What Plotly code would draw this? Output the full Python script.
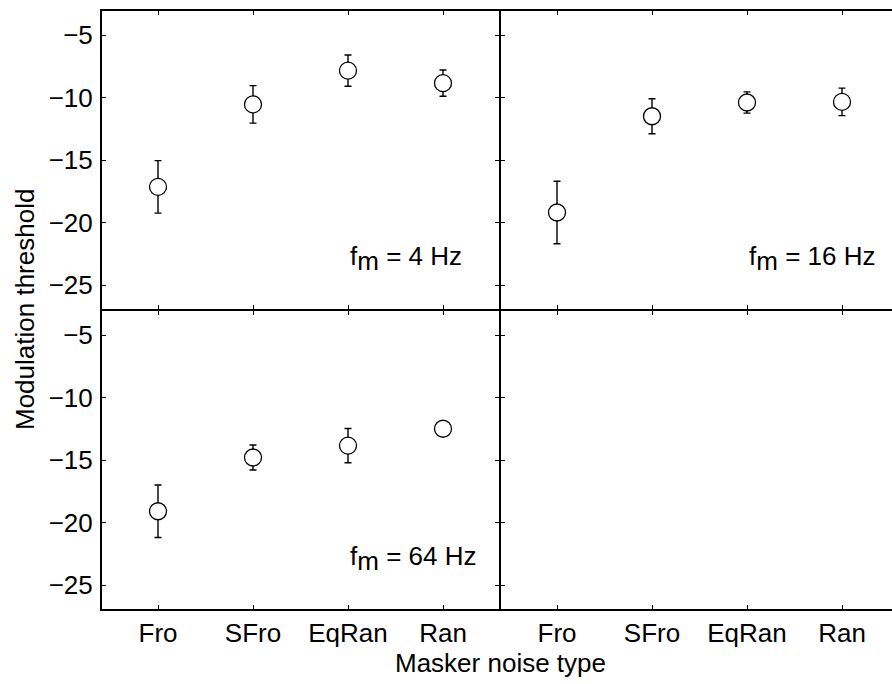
import plotly.graph_objects as go
from plotly.subplots import make_subplots

categories = ["Fro", "SFro", "EqRan", "Ran"]
xpos = [1, 2, 3, 4]

thr_4 = [-17.15, -10.55, -7.85, -8.85]
err_4 = [2.1, 1.5, 1.25, 1.05]
thr_16 = [-19.2, -11.5, -10.4, -10.35]
err_16 = [2.5, 1.4, 0.85, 1.1]
thr_64 = [-19.1, -14.8, -13.85, -12.5]
err_64 = [2.1, 1.0, 1.37, 0.4]

FS = 26
sub_m = "<sub><span style='font-size:%dpx'>m</span></sub>" % FS
labels = ["f" + sub_m + " = 4 Hz", "f" + sub_m + " = 16 Hz", "f" + sub_m + " = 64 Hz"]
yticks = [-25, -20, -15, -10, -5]

FONT = "Liberation Sans, Arial, Helvetica, sans-serif"

W, H = 892, 684
L, R, T, B = 101, 0, 10, 74
pw = W - L - R
ph = H - T - B
split = 399 / pw

fig = make_subplots(rows=2, cols=2, horizontal_spacing=0, vertical_spacing=0)

panels = [(1, 1, thr_4, err_4),
          (1, 2, thr_16, err_16),
          (2, 1, thr_64, err_64)]

for r, c, y, e in panels:
    fig.add_trace(go.Scatter(
        x=xpos, y=y, mode="markers",
        marker=dict(symbol="circle", size=17, color="white",
                    line=dict(color="black", width=1.3)),
        error_y=dict(type="data", array=e, visible=True, color="black",
                     thickness=1.4, width=3.5),
        showlegend=False, hoverinfo="skip"), row=r, col=c)

# empty bottom-right panel
fig.add_trace(go.Scatter(x=[None], y=[None], mode="markers", showlegend=False),
              row=2, col=2)

for r in (1, 2):
    for c in (1, 2):
        xr = [0.4, 4.6] if c == 1 else [0.4, 0.4 + 392 / 95]
        fig.update_xaxes(range=xr, tickvals=xpos, ticktext=categories,
                         showticklabels=(r == 2), ticks="inside", ticklen=5,
                         tickwidth=1, tickcolor="black",
                         showline=True, linecolor="black", linewidth=1,
                         mirror="allticks", showgrid=False, zeroline=False,
                         ticklabelstandoff=0, automargin=False,
                         tickfont=dict(family=FONT, size=FS, color="black"),
                         row=r, col=c)
        fig.update_yaxes(range=[-27, -3], tickvals=yticks,
                         showticklabels=(c == 1), ticks="inside", ticklen=5,
                         tickwidth=1, tickcolor="black",
                         showline=True, linecolor="black", linewidth=1,
                         mirror=("allticks" if c == 1 else False),
                         showgrid=False, zeroline=False,
                         ticklabelstandoff=2, automargin=False,
                         tickfont=dict(family=FONT, size=FS, color="black"),
                         row=r, col=c)

fig.update_layout(
    xaxis=dict(domain=[0, split]), xaxis2=dict(domain=[split, 1]),
    xaxis3=dict(domain=[0, split]), xaxis4=dict(domain=[split, 1]),
    yaxis=dict(domain=[0.5, 1]), yaxis2=dict(domain=[0.5, 1]),
    yaxis3=dict(domain=[0, 0.5]), yaxis4=dict(domain=[0, 0.5]),
)

# outer frame (thicker)
for x0, y0, x1, y1 in [(0, 0, 0, 1), (0, 1, 1, 1), (0, 0, 1, 0)]:
    fig.add_shape(type="line", xref="paper", yref="paper", x0=x0, y0=y0, x1=x1, y1=y1,
                  line=dict(color="black", width=2), layer="above")

for (xr_, yr_), txt in zip([("x", "y"), ("x2", "y2"), ("x3", "y3")], labels):
    fig.add_annotation(x=3.0, y=-22.9, xref=xr_, yref=yr_, text=txt,
                       showarrow=False, xanchor="left", yanchor="middle",
                       font=dict(family=FONT, size=FS, color="black"))

fig.add_annotation(x=(500 - L) / pw, y=-(663 - (H - B)) / ph,
                   xref="paper", yref="paper", text="Masker noise type",
                   showarrow=False, xanchor="center", yanchor="middle",
                   font=dict(family=FONT, size=FS, color="black"))
fig.add_annotation(x=-(L - 25) / pw, y=((H - B) - 310) / ph,
                   xref="paper", yref="paper", text="Modulation threshold",
                   textangle=-90, showarrow=False, xanchor="center", yanchor="middle",
                   font=dict(family=FONT, size=FS, color="black"))

fig.update_layout(width=W, height=H, margin=dict(l=L, r=R, t=T, b=B, autoexpand=False),
                  paper_bgcolor="white", plot_bgcolor="white",
                  font=dict(family=FONT, size=FS, color="black"))

fig.write_html("out.html", config={"displayModeBar": False},
               post_script="document.body.style.margin='0';document.body.style.overflow='hidden';")
